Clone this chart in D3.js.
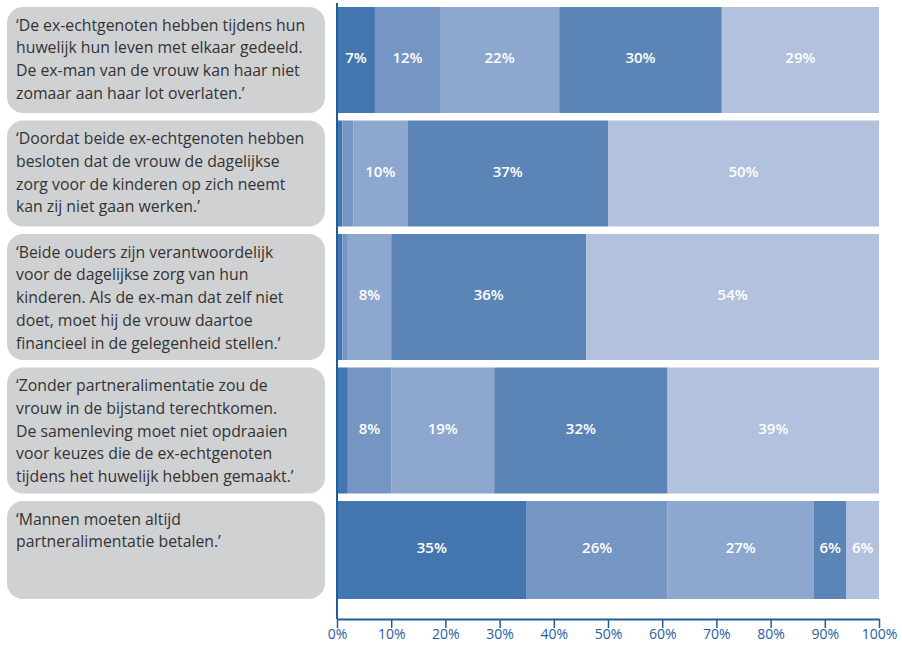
<!DOCTYPE html>
<html>
<head>
<meta charset="utf-8">
<script src="https://cdn.jsdelivr.net/npm/d3@7"></script>
<style>
  body { margin: 0; background: #fff; }
  svg { display: block; }
</style>
</head>
<body>
<script>
'use strict';

// statements, one entry per line of the grey box
const statements = [
  ["‘De ex-echtgenoten hebben tijdens hun", "huwelijk hun leven met elkaar gedeeld.", "De ex-man van de vrouw kan haar niet", "zomaar aan haar lot overlaten.’"],
  ["‘Doordat beide ex-echtgenoten hebben", "besloten dat de vrouw de dagelijkse", "zorg voor de kinderen op zich neemt", "kan zij niet gaan werken.’"],
  ["‘Beide ouders zijn verantwoordelijk", "voor de dagelijkse zorg van hun", "kinderen. Als de ex-man dat zelf niet", "doet, moet hij de vrouw daartoe", "financieel in de gelegenheid stellen.’"],
  ["‘Zonder partneralimentatie zou de", "vrouw in de bijstand terechtkomen.", "De samenleving moet niet opdraaien", "voor keuzes die de ex-echtgenoten", "tijdens het huwelijk hebben gemaakt.’"],
  ["‘Mannen moeten altijd", "partneralimentatie betalen.’"]
];

// shares per answer category (left to right), per statement
const cat1 = [7, 1, 1, 2, 35];
const cat2 = [12, 2, 1, 8, 26];
const cat3 = [22, 10, 8, 19, 27];
const cat4 = [30, 37, 36, 32, 6];
const cat5 = [29, 50, 54, 39, 6];

const tickValues = [0, 10, 20, 30, 40, 50, 60, 70, 80, 90, 100];

(function() {

  const colors = ["#4376ae", "#7595c3", "#8da7cf", "#5b84b7", "#b1c1de"];

  const width = 902, height = 646;
  const svg = d3.select("body").append("svg")
    .attr("width", width)
    .attr("height", height);

  // row layout: height grows with number of text lines
  const startY = 7, gap = 7.5;
  let rows = [];
  let yy = startY;
  statements.forEach((lines, i) => {
    let h = Math.max(98, 26 + 20 * lines.length);
    rows.push({ i: i, y: yy, h: h, lines: lines,
      vals: [cat1[i], cat2[i], cat3[i], cat4[i], cat5[i]] });
    yy += h + gap;
  });

  const x = d3.scaleLinear().domain([0, 100]).range([337, 879]);

  // grey boxes with statement text
  const box = svg.selectAll(".box")
    .data(rows)
    .enter()
    .append("g")
    .attr("class", "box");

  box.append("rect")
    .attr("x", 7)
    .attr("y", d => d.y)
    .attr("width", 318)
    .attr("height", d => d.h)
    .attr("rx", 16)
    .attr("fill", "#d0d1d3");

  box.each(function(d) {
    let t = d3.select(this).append("text")
      .attr("font-family", "'Open Sans', sans-serif")
      .attr("font-size", "15.8px")
      .attr("fill", "#333");
    d.lines.forEach((ln, k) => {
      t.append("tspan")
        .attr("x", 16)
        .attr("y", d.y + 23.5 + k * 22.8)
        .text(ln);
    });
  });

  // stacked bars
  rows.forEach(r => {
    let acc = 0;
    let segs = r.vals.map((v, k) => {
      let s = { x0: acc, x1: acc + v, v: v, k: k };
      acc += v;
      return s;
    });
    let g = svg.append("g");
    g.selectAll("rect")
      .data(segs)
      .enter()
      .append("rect")
      .attr("x", d => x(d.x0))
      .attr("y", r.y)
      .attr("width", d => x(d.x1) - x(d.x0))
      .attr("height", r.h)
      .attr("fill", d => colors[d.k]);

    g.selectAll("text")
      .data(segs.filter(d => d.v >= 5))
      .enter()
      .append("text")
      .attr("x", d => x((d.x0 + d.x1) / 2))
      .attr("y", r.y + r.h / 2 + 3)
      .attr("text-anchor", "middle")
      .attr("font-family", "'Open Sans', sans-serif")
      .attr("font-weight", 600)
      .attr("font-size", "15px")
      .attr("fill", "#fff")
      .text(d => d.v + "%");
  });

  // axes
  const axisColor = "#1f5e9e";
  const axisY = 619;
  const xAxis = d3.axisBottom(x)
    .tickValues(tickValues)
    .tickSize(9)
    .tickSizeOuter(0)
    .tickFormat(d => d + "%");

  const ax = svg.append("g")
    .attr("transform", "translate(0," + axisY + ")")
    .call(xAxis);
  ax.select(".domain").attr("stroke", axisColor).attr("stroke-width", 2);
  ax.selectAll(".tick line").attr("stroke", axisColor).attr("stroke-width", 1.5);
  ax.selectAll(".tick text")
    .attr("fill", axisColor)
    .attr("font-family", "'Open Sans', sans-serif")
    .attr("font-size", "14px")
    .attr("dy", "0.55em");

  svg.append("line")
    .attr("x1", x(0)).attr("x2", x(0))
    .attr("y1", 3).attr("y2", axisY)
    .attr("stroke", axisColor)
    .attr("stroke-width", 2);

})();
</script>
</body>
</html>
